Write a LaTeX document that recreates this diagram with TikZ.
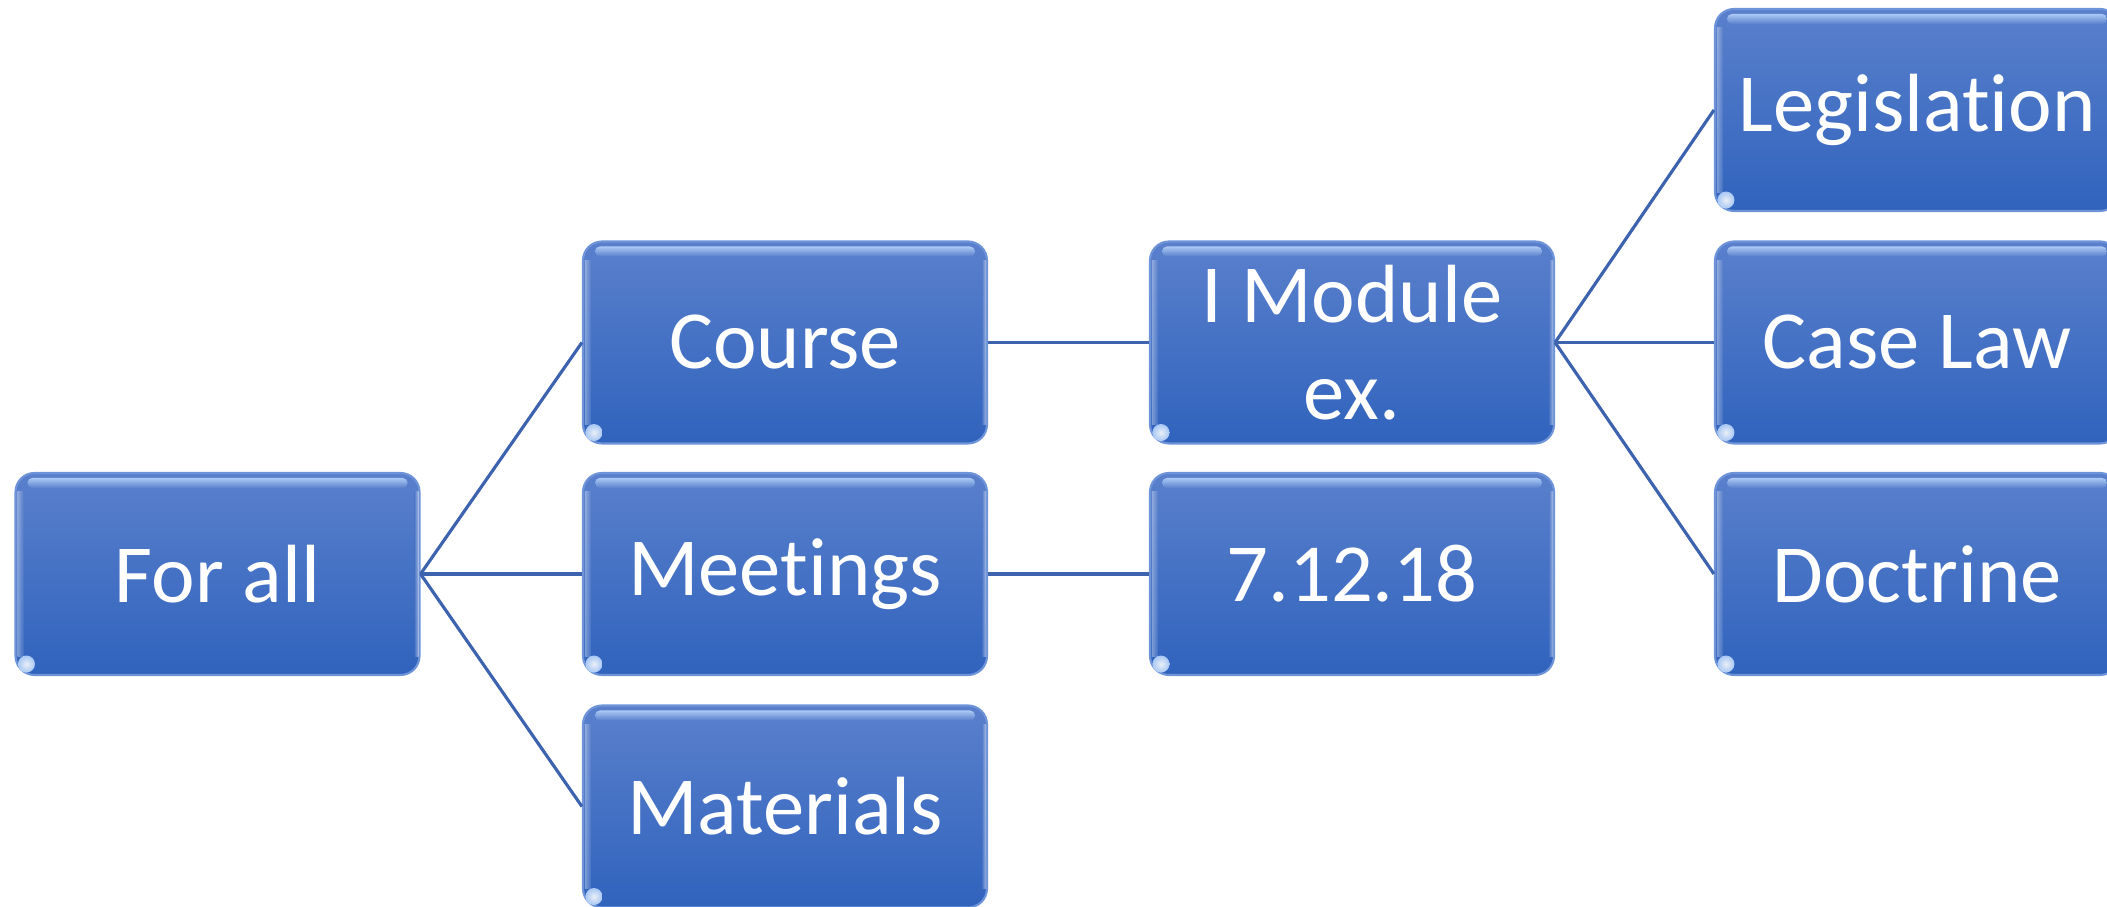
\documentclass[tikz,border=0pt]{standalone}
\usepackage{fontspec}
\setmainfont{Carlito}[Ligatures=NoCommon]
\usetikzlibrary{calc}
\definecolor{topblue}{HTML}{5A80CC}
\definecolor{botblue}{HTML}{3063BD}
\definecolor{edgeblue}{HTML}{6E93D8}
\definecolor{linkblue}{HTML}{3D62AE}
\definecolor{glossblue}{HTML}{B4D2FA}
\tikzset{
  box/.style={draw=edgeblue, line width=0.6pt, rounded corners=0.19cm,
    top color=topblue, bottom color=botblue, minimum width=4.04cm,
    minimum height=2.02cm, inner sep=0pt, text=white, align=center,
    font=\fontsize{23.5}{27.5}\selectfont},
  link/.style={draw=linkblue, line width=0.9pt}
}
\begin{document}
\begin{tikzpicture}
\useasboundingbox (0,0) rectangle (21.07,9.07);
\node[box] (forall) at (2.175,3.33) {For all};
\node[box] (course) at (7.85,5.645) {Course};
\node[box] (meetings) at (7.85,3.33) {Meetings};
\node[box] (materials) at (7.85,1.005) {Materials};
\node[box] (module) at (13.52,5.645) {I Module\\ex.};
\node[box] (date) at (13.52,3.33) {7.12.18};
\node[box] (legis) at (19.17,7.97) {Legislation};
\node[box] (case) at (19.17,5.645) {Case Law};
\node[box] (doctrine) at (19.17,3.33) {Doctrine};
\foreach \n in {forall,course,meetings,materials,module,date,legis,case,doctrine}{
  \shade[top color=glossblue, bottom color=topblue, rounded corners=0.05cm, opacity=0.9]
    ($(\n.north west)+(0.13,-0.06)$) rectangle ($(\n.north east)+(-0.13,-0.16)$);
  \shade[left color=white, right color=topblue, opacity=0.35]
    ($(\n.north west)+(0.03,-0.2)$) rectangle ($(\n.south west)+(0.09,0.2)$);
  \shade[left color=topblue, right color=white, opacity=0.5]
    ($(\n.north east)+(-0.06,-0.2)$) rectangle ($(\n.south east)+(-0.02,0.2)$);
  \shade[inner color=white, outer color=glossblue, opacity=0.9]
    ($(\n.south west)+(0.12,0.12)$) circle (0.085);
}
\draw[link] (forall.east) -- (course.west);
\draw[link] (forall.east) -- (meetings.west);
\draw[link] (forall.east) -- (materials.west);
\draw[link] (course.east) -- (module.west);
\draw[link] (meetings.east) -- (date.west);
\draw[link] (module.east) -- (legis.west);
\draw[link] (module.east) -- (case.west);
\draw[link] (module.east) -- (doctrine.west);
\end{tikzpicture}
\end{document}
